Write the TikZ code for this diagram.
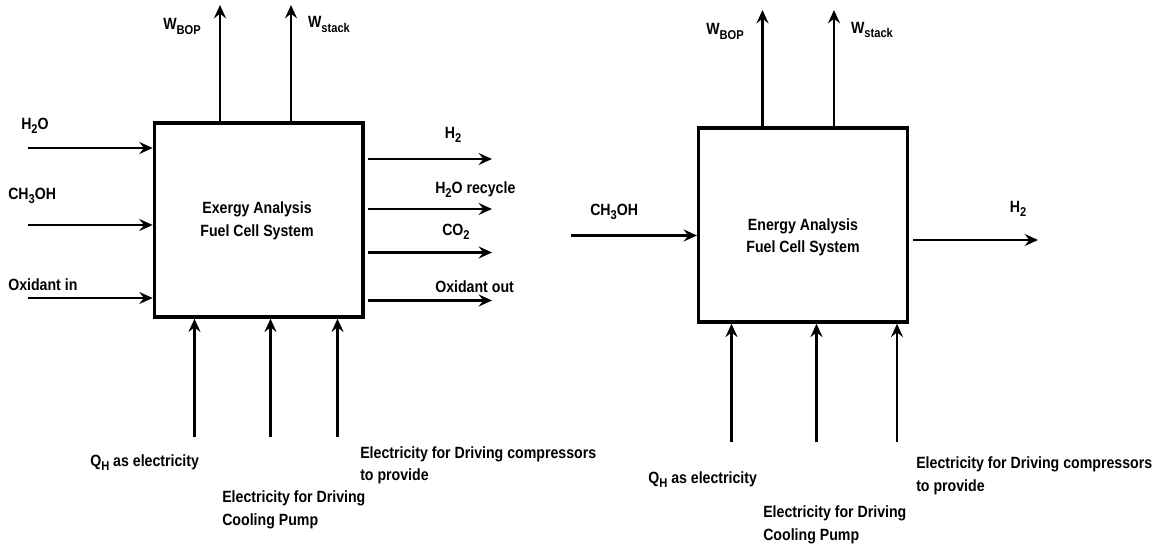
\documentclass[tikz,border=0pt]{standalone}
\usepackage{fontspec}
\setmainfont{Liberation Sans}[FakeStretch=0.87]
\usetikzlibrary{positioning,arrows.meta}
\newcommand{\lowsub}[1]{\raisebox{-0.3em}{\fontsize{9.6}{10}\selectfont #1}}

\begin{document}
\begin{tikzpicture}[
  x=0.75pt, y=-0.75pt,
  every node/.style={font=\bfseries\fontsize{12.2}{16.7}\selectfont},
  sysbox/.style={draw, line width=2.6pt, minimum width=156.5pt, minimum height=145.5pt, inner sep=0pt},
  lbl/.style={inner sep=0pt, align=left},
  arr/.style={-{Stealth[length=10pt, width=9pt, inset=3.5pt]}, line width=1.8pt}
]
\useasboundingbox (0,0) rectangle (1161,546);

% exergy system (left)
\node[sysbox] (ex) at (258.7,219.9) {};
\node[lbl, align=center, anchor=base] (ex-title) at (257,236) {Exergy Analysis\\Fuel Cell System};

\coordinate (ex-bop) at (220,5);
\coordinate (ex-stack) at (291,5);
\coordinate (ex-h2o) at (28,148);
\coordinate (ex-meoh) at (28,225);
\coordinate (ex-oxin) at (28,298);
\coordinate (ex-h2) at (492,159);
\coordinate (ex-rec) at (492,209);
\coordinate (ex-co2) at (492,252.5);
\coordinate (ex-oxout) at (492,300.5);
\coordinate (ex-qh) at (194.5,437);
\coordinate (ex-pump) at (270.5,437);
\coordinate (ex-comp) at (337.5,437);

\draw[arr] (ex.north -| ex-bop) -- (ex-bop);
\draw[arr] (ex.north -| ex-stack) -- (ex-stack);
\draw[arr] (ex-h2o) -- (ex-h2o -| ex.west);
\draw[arr] (ex-meoh) -- (ex-meoh -| ex.west);
\draw[arr] (ex-oxin) -- (ex-oxin -| ex.west);
\draw[arr] (ex.east |- ex-h2) ++(3,0) -- (ex-h2);
\draw[arr] (ex.east |- ex-rec) ++(3,0) -- (ex-rec);
\draw[arr] (ex.east |- ex-co2) ++(3,0) -- (ex-co2);
\draw[arr] (ex.east |- ex-oxout) ++(3,0) -- (ex-oxout);
\draw[arr] (ex-qh) -- (ex-qh |- ex.south);
\draw[arr] (ex-pump) -- (ex-pump |- ex.south);
\draw[arr] (ex-comp) -- (ex-comp |- ex.south);

\node[lbl, anchor=base] (ex-bop-l) at (182,30) {W\lowsub{BOP}};
\node[lbl, anchor=base] (ex-stack-l) at (329,27.5) {W\lowsub{stack}};
\node[lbl, anchor=base west] (ex-h2o-l) at (21,129) {H\lowsub{2}O};
\node[lbl, anchor=base west] (ex-meoh-l) at (8,199) {CH\lowsub{3}OH};
\node[lbl, anchor=base west] (ex-oxin-l) at (8,290) {Oxidant in};
\node[lbl, anchor=base] (ex-h2-l) at (453,138) {H\lowsub{2}};
\node[lbl, anchor=base west] (ex-rec-l) at (435,193) {H\lowsub{2}O recycle};
\node[lbl, anchor=base west] (ex-co2-l) at (442,235) {CO\lowsub{2}};
\node[lbl, anchor=base west] (ex-oxout-l) at (435,292) {Oxidant out};
\node[lbl, anchor=base west] (ex-qh-l) at (90,466) {Q\lowsub{H} as electricity};
\node[lbl, anchor=base west] (ex-pump-l) at (222,525) {Electricity for Driving\\Cooling Pump};
\node[lbl, anchor=base west] (ex-comp-l) at (360,480.5) {Electricity for Driving compressors\\to provide};

% energy system (right)
\node[sysbox] (en) at (803,225) {};
\node[lbl, align=center, anchor=base] (en-title) at (803,252.5) {Energy Analysis\\Fuel Cell System};

\coordinate (en-bop) at (762.5,10);
\coordinate (en-stack) at (834,10);
\coordinate (en-meoh) at (571,235.5);
\coordinate (en-h2) at (1038,240);
\coordinate (en-qh) at (731.5,441.5);
\coordinate (en-pump) at (816.5,441.5);
\coordinate (en-comp) at (897,441.5);

\draw[arr] (en.north -| en-bop) -- (en-bop);
\draw[arr] (en.north -| en-stack) -- (en-stack);
\draw[arr] (en-meoh) -- (en-meoh -| en.west);
\draw[arr] (en.east |- en-h2) ++(4,0) -- (en-h2);
\draw[arr] (en-qh) -- (en-qh |- en.south);
\draw[arr] (en-pump) -- (en-pump |- en.south);
\draw[arr] (en-comp) -- (en-comp |- en.south);

\node[lbl, anchor=base] (en-bop-l) at (725,35) {W\lowsub{BOP}};
\node[lbl, anchor=base] (en-stack-l) at (872,33) {W\lowsub{stack}};
\node[lbl, anchor=base west] (en-meoh-l) at (590,215) {CH\lowsub{3}OH};
\node[lbl, anchor=base] (en-h2-l) at (1018,212) {H\lowsub{2}};
\node[lbl, anchor=base west] (en-qh-l) at (648,483) {Q\lowsub{H} as electricity};
\node[lbl, anchor=base west] (en-pump-l) at (763,540) {Electricity for Driving\\Cooling Pump};
\node[lbl, anchor=base west] (en-comp-l) at (916,491) {Electricity for Driving compressors\\to provide};
\end{tikzpicture}
\end{document}
